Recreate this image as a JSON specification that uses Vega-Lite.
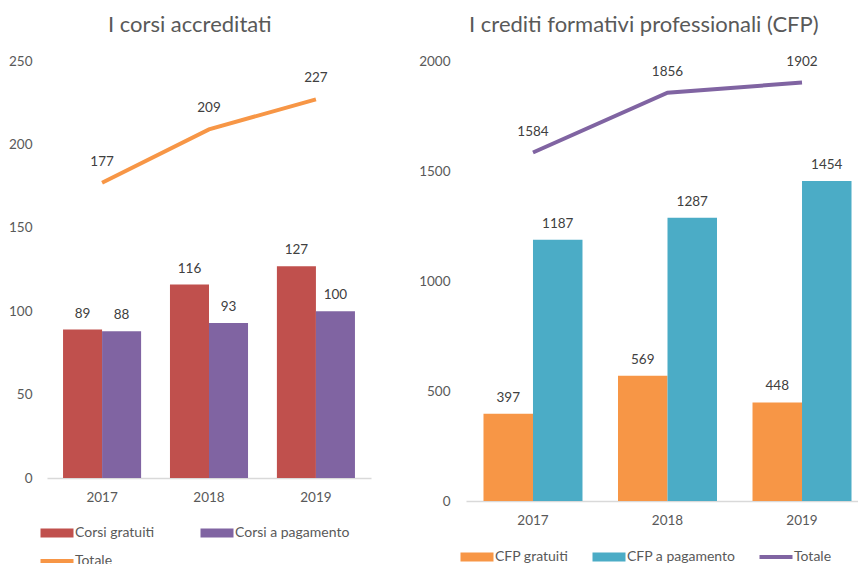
{
  "$schema": "https://vega.github.io/schema/vega-lite/v6.json",
  "background": "white",
  "padding": {"left": 8, "top": 14, "right": 0, "bottom": 0},
  "spacing": 47,
  "config": {
    "font": "Lato",
    "view": {"stroke": null},
    "axis": {"labelFont": "Lato", "labelFontSize": 13.5, "labelColor": "#595959", "ticks": false, "grid": false, "title": null, "domain": false},
    "legend": {"labelFont": "Lato", "labelFontSize": 14, "labelColor": "#595959", "title": null},
    "title": {"font": "Lato", "fontSize": 22, "fontWeight": "normal", "color": "#595959", "frame": "bounds", "anchor": "middle", "offset": 17}
  },
  "datasets": {
    "corsi": [
      {"year": "2017", "series": "Corsi gratuiti", "value": 89},
      {"year": "2017", "series": "Corsi a pagamento", "value": 88},
      {"year": "2017", "series": "Totale", "value": 177},
      {"year": "2018", "series": "Corsi gratuiti", "value": 116},
      {"year": "2018", "series": "Corsi a pagamento", "value": 93},
      {"year": "2018", "series": "Totale", "value": 209},
      {"year": "2019", "series": "Corsi gratuiti", "value": 127},
      {"year": "2019", "series": "Corsi a pagamento", "value": 100},
      {"year": "2019", "series": "Totale", "value": 227}
    ],
    "cfp": [
      {"year": "2017", "series": "CFP gratuiti", "value": 397},
      {"year": "2017", "series": "CFP a pagamento", "value": 1187},
      {"year": "2017", "series": "Totale", "value": 1584},
      {"year": "2018", "series": "CFP gratuiti", "value": 569},
      {"year": "2018", "series": "CFP a pagamento", "value": 1287},
      {"year": "2018", "series": "Totale", "value": 1856},
      {"year": "2019", "series": "CFP gratuiti", "value": 448},
      {"year": "2019", "series": "CFP a pagamento", "value": 1454},
      {"year": "2019", "series": "Totale", "value": 1902}
    ]
  },
  "resolve": {"scale": {"color": "independent", "y": "independent", "x": "independent", "xOffset": "independent"}, "legend": {"color": "independent"}},
  "hconcat": [
    {
      "width": 324,
      "height": 417,
      "title": {"text": "I corsi accreditati"},
      "data": {"name": "corsi"},
      "encoding": {
        "x": {"field": "year", "type": "nominal", "scale": {"paddingInner": 0.27, "paddingOuter": 0.15}, "axis": {"labelAngle": 0, "domain": true, "domainColor": "#D9D9D9", "domainWidth": 1.5, "labelPadding": 12}},
        "y": {"field": "value", "type": "quantitative", "scale": {"domain": [0, 250]}, "axis": {"values": [0, 50, 100, 150, 200, 250], "format": "d", "labelPadding": 15}}
      },
      "layer": [
        {
          "transform": [{"filter": "datum.series !== 'Totale'"}],
          "mark": {"type": "bar"},
          "encoding": {
            "xOffset": {"field": "series", "type": "nominal", "sort": ["Corsi gratuiti", "Corsi a pagamento"], "scale": {"paddingInner": 0, "paddingOuter": 0}},
            "color": {
              "field": "series", "type": "nominal",
              "scale": {"domain": ["Corsi gratuiti", "Corsi a pagamento", "Totale"], "range": ["#C0504D", "#8064A2", "#F79646"]},
              "legend": {
                "orient": "none", "legendX": 0, "legendY": 462, "direction": "horizontal", "columns": 2,
                "symbolSize": 400, "labelOffset": 8, "columnPadding": 45, "rowPadding": 11, "symbolStrokeWidth": 0,
                "encode": {"symbols": {"update": {"shape": [{"test": "datum.value === 'Totale'", "value": "M-1.65,-0.2H1.65V0.2H-1.65Z"}, {"value": "M-1.65,-0.45H1.65V0.45H-1.65Z"}]}}}
              }
            }
          }
        },
        {
          "transform": [{"filter": "datum.series !== 'Totale'"}],
          "mark": {"type": "text", "dy": -16, "fontSize": 13.5, "color": "#404040", "font": "Lato"},
          "encoding": {
            "xOffset": {"field": "series", "type": "nominal", "sort": ["Corsi gratuiti", "Corsi a pagamento"]},
            "text": {"field": "value", "type": "quantitative"}
          }
        },
        {
          "transform": [{"filter": "datum.series === 'Totale'"}],
          "mark": {"type": "line", "color": "#F79646", "strokeWidth": 4},
          "encoding": {}
        },
        {
          "transform": [{"filter": "datum.series === 'Totale'"}],
          "mark": {"type": "text", "dy": -21, "fontSize": 13.5, "color": "#404040", "font": "Lato"},
          "encoding": {"text": {"field": "value", "type": "quantitative"}}
        }
      ]
    },
    {
      "width": 403,
      "height": 440,
      "title": {"text": "I crediti formativi professionali (CFP)"},
      "data": {"name": "cfp"},
      "encoding": {
        "x": {"field": "year", "type": "nominal", "scale": {"paddingInner": 0.264, "paddingOuter": 0.13}, "axis": {"labelAngle": 0, "domain": true, "domainColor": "#D9D9D9", "domainWidth": 1.5, "labelPadding": 12}},
        "y": {"field": "value", "type": "quantitative", "scale": {"domain": [0, 2000]}, "axis": {"values": [0, 500, 1000, 1500, 2000], "format": "d", "labelPadding": 16}}
      },
      "layer": [
        {
          "transform": [{"filter": "datum.series !== 'Totale'"}],
          "mark": {"type": "bar"},
          "encoding": {
            "xOffset": {"field": "series", "type": "nominal", "sort": ["CFP gratuiti", "CFP a pagamento"], "scale": {"paddingInner": 0, "paddingOuter": 0}},
            "color": {
              "field": "series", "type": "nominal",
              "scale": {"domain": ["CFP gratuiti", "CFP a pagamento", "Totale"], "range": ["#F79646", "#4BACC6", "#8064A2"]},
              "legend": {
                "orient": "none", "legendX": 1, "legendY": 486, "direction": "horizontal", "columns": 3,
                "symbolSize": 400, "labelOffset": 8, "columnPadding": 23, "symbolStrokeWidth": 0,
                "encode": {"symbols": {"update": {"shape": [{"test": "datum.value === 'Totale'", "value": "M-1.65,-0.2H1.65V0.2H-1.65Z"}, {"value": "M-1.65,-0.45H1.65V0.45H-1.65Z"}]}}}
              }
            }
          }
        },
        {
          "transform": [{"filter": "datum.series !== 'Totale'"}],
          "mark": {"type": "text", "dy": -16, "fontSize": 13.5, "color": "#404040", "font": "Lato"},
          "encoding": {
            "xOffset": {"field": "series", "type": "nominal", "sort": ["CFP gratuiti", "CFP a pagamento"]},
            "text": {"field": "value", "type": "quantitative"}
          }
        },
        {
          "transform": [{"filter": "datum.series === 'Totale'"}],
          "mark": {"type": "line", "color": "#8064A2", "strokeWidth": 4},
          "encoding": {}
        },
        {
          "transform": [{"filter": "datum.series === 'Totale'"}],
          "mark": {"type": "text", "dy": -21, "fontSize": 13.5, "color": "#404040", "font": "Lato"},
          "encoding": {"text": {"field": "value", "type": "quantitative"}}
        }
      ]
    }
  ]
}
